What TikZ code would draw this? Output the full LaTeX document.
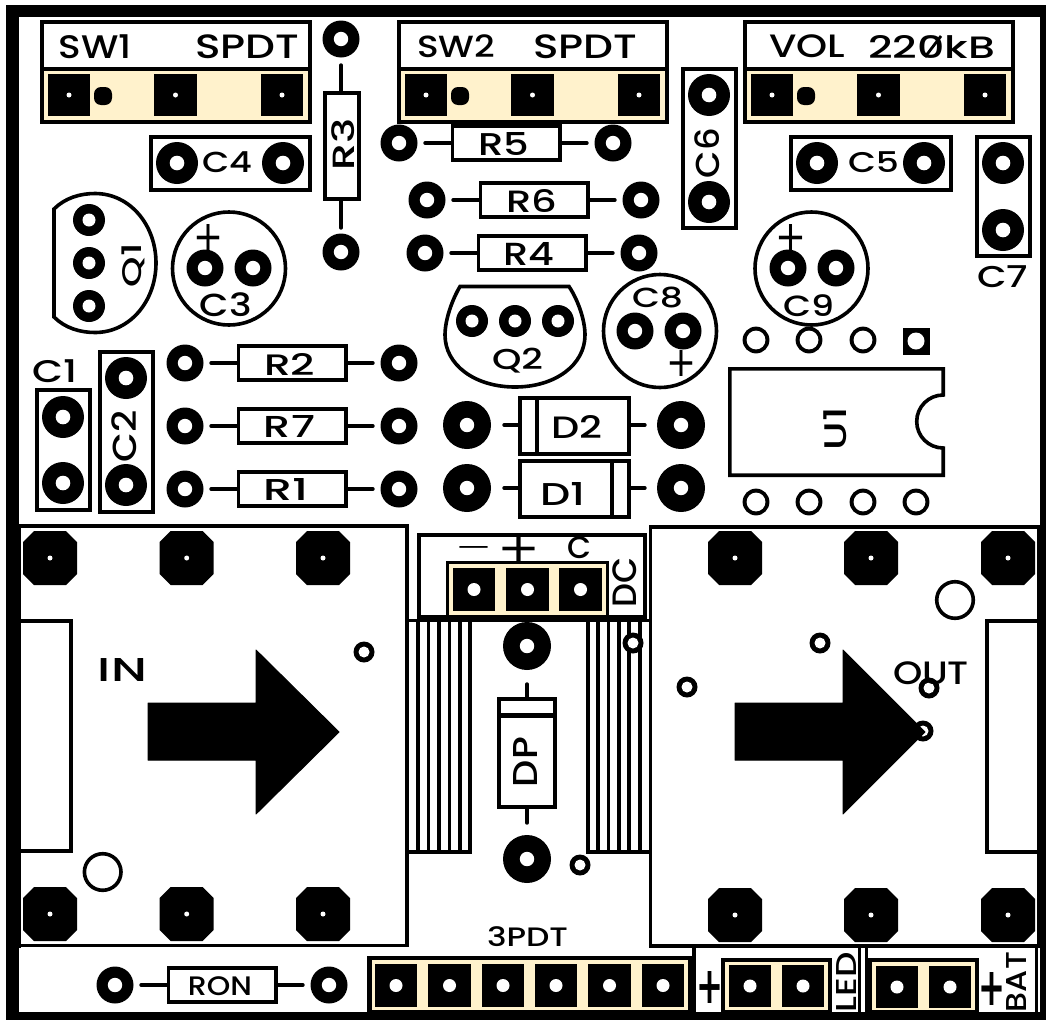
\documentclass[tikz,border=0pt]{standalone}
\usepackage{fontspec}
\newfontfamily\pf{Poppins Medium}
\newfontfamily\pl{DejaVu Sans}
\definecolor{creamy}{HTML}{FFF2CC}
\newcounter{lbc}
\tikzset{
  lw/.style={line width=3.6pt,draw=black},
  lead/.style={line width=3.4pt,draw=black,line cap=round},
  lab/.style={inner sep=0pt,outer sep=0pt,text=black}
}
% label fitted to a measured bbox
\newcommand\lb[5]{\pgfmathsetmacro\wA{#3-#1}\pgfmathsetmacro\hA{#4-#2}\stepcounter{lbc}%
  \node[lab] (t\arabic{lbc}) at ({(#1+#3)/2},{(#2+#4)/2}) {\resizebox*{\wA pt}{\hA pt}{\pf #5}};}
\newcommand\lbr[5]{\pgfmathsetmacro\wA{#4-#2}\pgfmathsetmacro\hA{#3-#1}\stepcounter{lbc}%
  \node[lab,rotate=90] (t\arabic{lbc}) at ({(#1+#3)/2},{(#2+#4)/2}) {\resizebox*{\wA pt}{\hA pt}{\pf #5}};}
\newcommand\lp[5]{\pgfmathsetmacro\wA{#3-#1}\pgfmathsetmacro\hA{#4-#2}\stepcounter{lbc}%
  \node[lab] (t\arabic{lbc}) at ({(#1+#3)/2},{(#2+#4)/2}) {\resizebox*{\wA pt}{\hA pt}{\pl #5}};}
\newcommand\donut[4]{\fill[black] (#1,#2) circle (#3pt);\fill[white] (#1,#2) circle (#4pt);}
\newcommand\bp[2]{\donut{#1}{#2}{18.5}{7.2}}
\newcommand\cp[2]{\donut{#1}{#2}{21}{7.3}}
\newcommand\qp[2]{\donut{#1}{#2}{16}{6.5}}
\newcommand\dpad[2]{\donut{#1}{#2}{24}{7.2}}
\newcommand\smallring[2]{\donut{#1}{#2}{10.5}{5.5}}
\newcommand\icring[2]{\donut{#1}{#2}{13.4}{9.4}}
\newcommand\obox[4]{\draw[lw] ({#1+1.8},{#2+1.8}) rectangle ({#3-1.8},{#4-1.8});}
\newcommand\sqpad[3]{\fill[black] ({#1-21.2},{#2-21.2}) rectangle ({#1+21.2},{#2+21.2});\fill[white] (#1,#2) circle (#3pt);}
\newcommand\octa[2]{\begin{scope}[shift={(#1,#2)}]
  \fill[black] (-16,-27)--(16,-27)--(27,-16)--(27,16)--(16,27)--(-16,27)--(-27,16)--(-27,-16)--cycle;
  \fill[white] (0,0) circle (2.5pt);\end{scope}}
% horizontal resistor: pads at +-107, body +-55.5
\newcommand\resh[2]{\bp{\the\numexpr#1-107\relax}{#2}\bp{\the\numexpr#1+107\relax}{#2}
  \obox{#1-55.5}{#2-19}{#1+55.5}{#2+19}
  \draw[lead] ({#1-81},#2) -- ({#1-55},#2); \draw[lead] ({#1+55},#2) -- ({#1+81},#2);}
\newcommand\swconn[1]{\begin{scope}[xshift=#1pt]
  \obox{40}{20}{312}{124}
  \draw[lw] (40,69) -- (312,69);
  \fill[creamy] (44,71) rectangle (308,119.5);
  \sqpad{69}{95}{2.5}\sqpad{175.5}{95}{2.5}\sqpad{282}{95}{2.5}
  \fill[black,rounded corners=7pt] (94,87) rectangle (112,105);
  \end{scope}}
\begin{document}
\begin{tikzpicture}[x=1pt,y=-1pt]
\useasboundingbox (0,0) rectangle (1046,1020);
\fill[white] (0,0) rectangle (1046,1020);
\fill[black] (6,5) rectangle (1046,1020);
\fill[white] (19,17) rectangle (1040,1012);
% modules
\fill[black] (19,524) rectangle (21,948);
\fill[black] (1037,527) rectangle (1040,948);
\draw[lw] (19,526) -- (407,526) -- (407,945.5) -- (19,945.5);
\draw[lw] (1040,527) -- (650.5,527) -- (650.5,946) -- (1040,946);
\draw[lw] (20,621) -- (71,621) -- (71,851) -- (20,851);
\draw[lw] (1038,621) -- (987,621) -- (987,852) -- (1038,852);
\foreach \x in {50,186.7,323}{\octa{\x}{558}\octa{\x}{914}}
\foreach \x in {735,871,1008}{\octa{\x}{558}\octa{\x}{915}}
% small rings and holes
\smallring{364}{652}\smallring{820}{643}\smallring{687}{687}\smallring{929}{688}\smallring{580}{865}
\draw[lw] (102.7,872) circle (18.3pt);
\draw[lw] (955,600) circle (18.3pt);
\smallring{923}{731}
% arrows
\fill[black,draw=black,line width=1pt,line join=round] (148,703) -- (256,703) -- (256,650) -- (339,732) -- (256,814) -- (256,760) -- (148,760) -- cycle;
\fill[black,draw=black,line width=1pt,line join=round] (735,703) -- (843,703) -- (843,650) -- (925,732) -- (843,814) -- (843,760) -- (735,760) -- cycle;
% heat-sink lines
\foreach \x in {418,428.3,439,449.3,460,470}{\draw[line width=3.4pt] (\x,619) -- (\x,854);}
\foreach \x in {588,598,608.5,619,629,640}{\draw[line width=3.4pt] (\x,619) -- (\x,854);}
\draw[lw] (405,852) -- (472,852);
\draw[lw] (586,852) -- (652,852);
\smallring{633}{643}
% DC block
\obox{417}{533}{647}{621}
\fill[black] (417,615) rectangle (647,622);
\fill[black] (405,619) rectangle (652,622);
\fill[black] (446,561) rectangle (609,620);
\fill[creamy] (449,564) rectangle (606,615);
\foreach \x in {474,527.5,580.5}{\sqpad{\x}{589.5}{6.5}}
% top connectors
\swconn{0}\swconn{357}\swconn{703}
% bottom connectors
\fill[black] (367,956) rectangle (692,1012);
\fill[creamy] (372,960) rectangle (688,1010);
\foreach \x in {396,449.5,503,556,609.5,663}{\sqpad{\x}{985.5}{6.5}}
\draw[lw] (694,947) -- (694,1012);
\draw[line width=3pt] (859,947) -- (859,1012);
\draw[line width=3pt] (866,947) -- (866,1012);
\draw[line width=3pt] (1036,947) -- (1036,1012);
\fill[black] (721,958) rectangle (832,1012);
\fill[creamy] (725,962) rectangle (828,1010);
\foreach \x in {750,803}{\sqpad{\x}{986}{6.5}}
\fill[black] (868,958) rectangle (979,1012);
\fill[creamy] (872,962) rectangle (975,1010);
\foreach \x in {897,950}{\sqpad{\x}{987}{6.5}}
% capacitor boxes
\obox{149}{135}{312}{192}\cp{177}{163}\cp{283}{163}
\obox{789}{135}{953}{192}\cp{817}{163}\cp{924}{163}
\obox{975}{135}{1032}{258}\cp{1003}{163}\cp{1003}{230}
\obox{681}{67}{738}{230}\cp{709}{95}\cp{709}{202}
\obox{35}{388}{92}{512}\cp{63}{417}\cp{63}{483}
\obox{98}{350}{155}{514}\cp{126}{378}\cp{126}{485}
% resistors
\bp{341}{39}\bp{341}{252}
\obox{323}{91}{361}{201}
\draw[lead] (341,65) -- (341,91); \draw[lead] (341,201) -- (341,228);
\resh{506}{143}
\resh{534}{200}
\resh{532}{253}
\resh{292}{363}
\resh{292}{426}
\resh{292}{489}
\resh{222}{985}
% Q1
\draw[lw] (54,209) .. controls (65,198) and (80,193.5) .. (95,193.5) .. controls (130,193.5) and (156,225) .. (156,263) .. controls (156,301) and (130,332.5) .. (95,332.5) .. controls (80,332.5) and (65,328) .. (54,317) -- cycle;
\qp{89}{220}\qp{89}{263}\qp{89}{306}
% Q2
\draw[lw] (460,286.5) -- (569,286.5) .. controls (578,300) and (585,320) .. (585,335) .. controls (585,365) and (555,387) .. (515,387) .. controls (475,387) and (445,365) .. (445,335) .. controls (445,320) and (452,300) .. (460,286.5) -- cycle;
\qp{472}{321}\qp{515}{321}\qp{558}{321}
% electrolytics
\draw[lw] (229,268.5) circle (56.5pt);\bp{205}{268}\bp{253}{268}
\draw[lw] (811.5,268.5) circle (56.5pt);\bp{788}{268}\bp{836}{268}
\draw[lw] (660,331) circle (56.5pt);\bp{635}{331}\bp{683}{331}
% U1
\icring{756}{340}\icring{809}{340}\icring{863}{340}
\fill[black] (903,328) rectangle (930,355);\fill[white] (916,341) circle (8.5pt);
\icring{756}{502}\icring{809}{502}\icring{863}{502}\icring{916}{502}
\draw[lw] (943.2,395) -- (943.2,368.8) -- (729.8,368.8) -- (729.8,475.2) -- (943.2,475.2) -- (943.2,448) arc[start angle=-90,end angle=-270,radius=26.5pt] -- cycle;
% diodes
\obox{518}{396}{631}{456}\fill[black] (535,396) rectangle (539,456);
\draw[lead] (504,425) -- (518,425);\draw[lead] (631,425) -- (645,425);\dpad{467}{425}\dpad{681}{425}
\obox{518}{459}{631}{519}\fill[black] (610,459) rectangle (614,519);
\draw[lead] (504,488) -- (518,488);\draw[lead] (631,488) -- (645,488);\dpad{467}{488}\dpad{681}{488}
\obox{497}{697}{557}{809}\fill[black] (497,713) rectangle (557,718);
\draw[lead] (527,684) -- (527,697);\draw[lead] (527,809) -- (527,823);\dpad{527}{646}\dpad{527}{859}
% labels
\lb{59}{35}{132}{59}{SW1}\lb{195}{35}{299}{59}{SPDT}
\lb{417}{35}{495}{58}{SW2}\lb{533}{35}{637}{59}{SPDT}
\lb{769}{35}{845}{58}{VOL}\lb{868}{35}{995}{58}{220kB}
\draw[line width=2.8pt] (925,57) -- (941,36);
\lb{202}{152}{252}{173}{C4}\lb{848}{152}{899}{173}{C5}\lb{977}{266}{1028}{288}{C7}
\lb{200}{293}{252}{317}{C3}\lb{783}{295}{834}{317}{C9}\lb{632}{287}{683}{308}{C8}
\lb{33}{360}{78}{383}{C1}
\lbr{695}{128}{720}{178}{C6}\lbr{112}{410}{137}{462}{C2}
\lbr{332}{118}{355}{170}{R3}\lbr{122}{243}{145}{287}{Q1}\lbr{824}{407}{847}{450}{U1}
\lb{478}{132}{529}{155}{R5}\lb{506}{189}{557}{212}{R6}\lb{503}{242}{554}{265}{R4}
\lb{264}{353}{315}{375}{R2}\lb{264}{415}{315}{437}{R7}\lb{264}{478}{309}{500}{R1}
\lb{492}{348}{543}{373}{Q2}
\lb{551}{415}{602}{438}{D2}\lb{540}{482}{585}{505}{D1}
\lb{98}{658}{147}{681}{IN}\lb{893}{662}{969}{685}{OUT}
\lb{487}{927}{568}{947}{3PDT}\lb{188}{977}{252}{996}{RON}
\lbr{513}{737}{537}{787}{DP}\lbr{613}{557}{637}{607}{DC}
\lbr{836}{952}{856}{1012}{LED}\lbr{1006}{952}{1026}{1012}{BAT}
\lp{193}{224}{223}{251}{+}\lp{775}{224}{806}{251}{+}\lp{666}{350}{696}{376}{+}
\lp{456}{546}{491}{554}{–}\lp{497}{535}{540}{562}{+}\lb{567}{537}{591}{559}{C}
\lp{696}{971}{723}{1003}{\bfseries +}\lp{978}{972}{1005}{1005}{\bfseries +}
\end{tikzpicture}
\end{document}
